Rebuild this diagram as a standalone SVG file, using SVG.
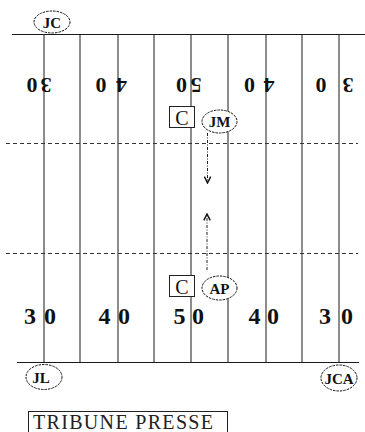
<svg xmlns="http://www.w3.org/2000/svg" width="365" height="432" viewBox="0 0 365 432">
<style>
.ln{stroke:#1a1a1a;stroke-width:1;fill:none}
.dash{stroke:#333;stroke-width:1;stroke-dasharray:4,3;fill:none}
.num{font-family:"Liberation Serif","Times New Roman",serif;font-weight:bold;fill:#111;text-anchor:middle}
.ref{fill:#fff;stroke:#111;stroke-width:1;stroke-dasharray:2.5,1}
.rlab{font-family:"Liberation Serif","Times New Roman",serif;font-weight:bold;font-size:15px;fill:#111;text-anchor:middle}
.box{fill:#fff;stroke:#222;stroke-width:1}
.clab{font-family:"Liberation Serif","Times New Roman",serif;font-size:20px;fill:#111;text-anchor:middle}
.mv{stroke:#222;stroke-width:1;stroke-dasharray:3,1.5,1,1.5;fill:none;marker-end:url(#ah)}
</style>
<defs>
<marker id="ah" viewBox="0 0 10 10" refX="9" refY="5" markerWidth="8" markerHeight="8" orient="auto" markerUnits="userSpaceOnUse">
<path d="M1,1 L9,5 L1,9" fill="none" stroke="#111" stroke-width="1.8"/>
</marker>
</defs>
<rect width="365" height="432" fill="#fff"/>
<g id="field">
<line class="ln" x1="12" y1="34.5" x2="365" y2="34.5"/>
<line class="ln" x1="17" y1="362.5" x2="359" y2="362.5"/>
<line class="ln" x1="44" y1="34" x2="44" y2="362"/>
<line class="ln" x1="80" y1="34" x2="80" y2="362"/>
<line class="ln" x1="118" y1="34" x2="118" y2="362"/>
<line class="ln" x1="154" y1="34" x2="154" y2="362"/>
<line class="ln" x1="191" y1="34" x2="191" y2="362"/>
<line class="ln" x1="228" y1="34" x2="228" y2="362"/>
<line class="ln" x1="266" y1="34" x2="266" y2="362"/>
<line class="ln" x1="302" y1="34" x2="302" y2="362"/>
<line class="ln" x1="339" y1="34" x2="339" y2="362"/>
<line class="dash" x1="6" y1="143.5" x2="358" y2="143.5"/>
<line class="dash" x1="6" y1="253.5" x2="358" y2="253.5"/>
</g>
<g id="numbers-top" class="num" font-size="22">
<text transform="rotate(180 39 85)"><tspan x="32" y="92.5">3</tspan><tspan x="46" y="92.5">0</tspan></text>
<text transform="rotate(180 111.25 85)"><tspan x="101" y="92.5">4</tspan><tspan x="121.5" y="92.5">0</tspan></text>
<text transform="rotate(180 188.75 85)"><tspan x="181.5" y="92.5">5</tspan><tspan x="196" y="92.5">0</tspan></text>
<text transform="rotate(180 259.25 85)"><tspan x="249.5" y="92.5">4</tspan><tspan x="269" y="92.5">0</tspan></text>
<text transform="rotate(180 334.5 85)"><tspan x="321" y="92.5">3</tspan><tspan x="348" y="92.5">0</tspan></text>
</g>
<g id="numbers-bottom" class="num" font-size="24">
<text><tspan x="30" y="324">3</tspan><tspan x="50" y="324">0</tspan></text>
<text><tspan x="104.5" y="324">4</tspan><tspan x="124" y="324">0</tspan></text>
<text><tspan x="179.5" y="324">5</tspan><tspan x="198" y="324">0</tspan></text>
<text><tspan x="254.5" y="324">4</tspan><tspan x="273" y="324">0</tspan></text>
<text><tspan x="325" y="324">3</tspan><tspan x="347" y="324">0</tspan></text>
</g>
<g id="connectors">
<line class="mv" x1="207.5" y1="133" x2="207.5" y2="183"/>
<line class="mv" x1="207" y1="270" x2="207" y2="214"/>
</g>
<g id="JC"><ellipse class="ref" cx="52" cy="22" rx="18" ry="11"/><text class="rlab" x="52" y="27.5">JC</text></g>
<g id="C1"><rect class="box" x="169.5" y="106.5" width="25" height="21"/><text class="clab" x="182" y="124.5">C</text></g>
<g id="JM"><ellipse class="ref" cx="219.5" cy="121.5" rx="17.5" ry="11.5"/><text class="rlab" x="219.5" y="127">JM</text></g>
<g id="C2"><rect class="box" x="169.5" y="275.5" width="25" height="21"/><text class="clab" x="182" y="293.5">C</text></g>
<g id="AP"><ellipse class="ref" cx="219.5" cy="288" rx="17.5" ry="12"/><text class="rlab" x="219.5" y="293.5">AP</text></g>
<g id="JL"><ellipse class="ref" cx="44" cy="377" rx="18" ry="12.5"/><text class="rlab" x="41" y="382.5">JL</text></g>
<g id="JCA"><ellipse class="ref" cx="339" cy="378" rx="18" ry="13"/><text class="rlab" x="339" y="383.5">JCA</text></g>
<g id="tribune"><rect class="box" x="28.5" y="411.5" width="199" height="30"/><text x="33" y="429" font-family="'Liberation Serif','Times New Roman',serif" font-size="20" fill="#222" textLength="180" lengthAdjust="spacing">TRIBUNE PRESSE</text></g>
</svg>
